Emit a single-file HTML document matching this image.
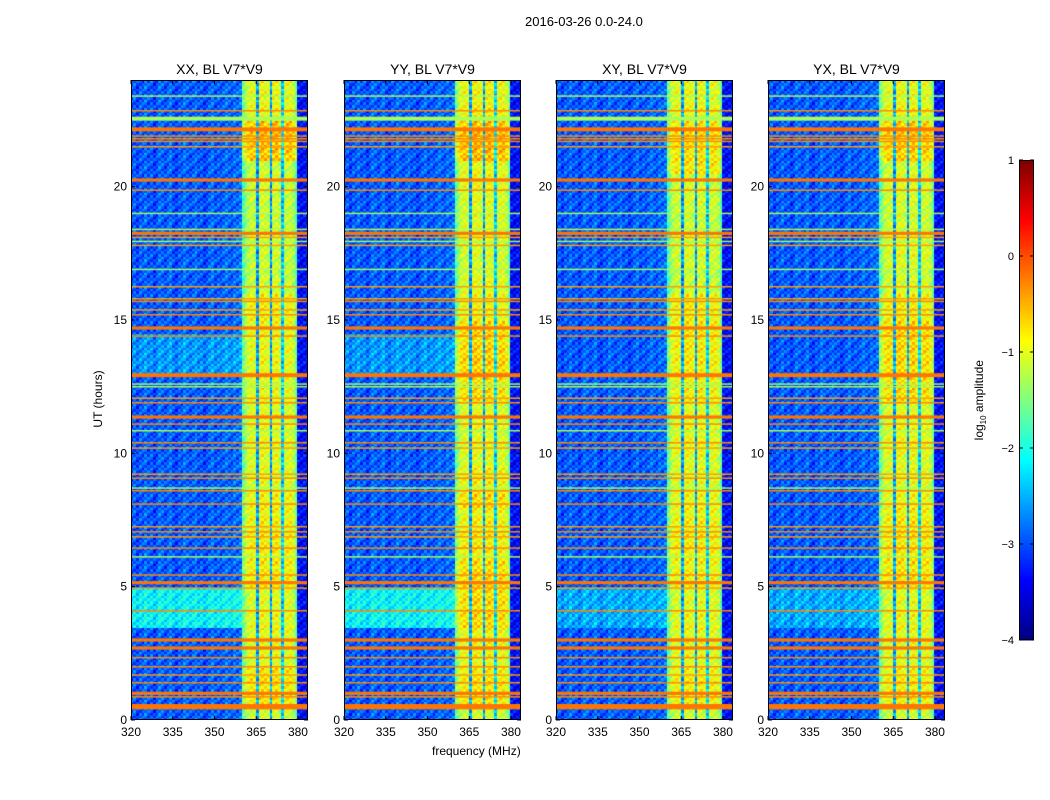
<!DOCTYPE html>
<html><head><meta charset="utf-8">
<style>
body{margin:0;background:#fff;font-family:"Liberation Sans",sans-serif;}
#wrap{position:relative;width:1050px;height:800px;overflow:hidden;background:#fff;}
.t{position:absolute;color:#000;white-space:nowrap;}
canvas{position:absolute;}
</style></head><body>
<div id="wrap">
<div class="t" style="left:525px;top:14px;font-size:13px;">2016-03-26 0.0-24.0</div>
<div class="t" style="left:432px;top:744px;font-size:12px;">frequency (MHz)</div>
<div class="t" style="left:68px;top:392px;font-size:12px;transform:rotate(-90deg);transform-origin:center;width:60px;text-align:center;">UT (hours)</div>
<div class="t" style="left:930px;top:392px;font-size:12px;transform:rotate(-90deg);width:100px;text-align:center;">log<sub style="font-size:8px">10</sub> amplitude</div>
<svg id="svg" width="1050" height="800" style="position:absolute;left:0;top:0"></svg>
</div>
<script>
const freqLevel=[-3.0,-2.9,-3.1,-2.9,-3.0,-2.8,-3.0,-2.9,-3.1,-3.0,-2.8,-2.9,-3.0,-2.9,-2.8,-3.0,-3.1,-2.9,-3.0,-2.8,-2.9,-3.0,-2.9,-2.8,-3.0,-2.9,-3.1,-3.0,-2.9,-2.8,-3.0,-2.9,-3.0,-2.9,-2.8,-2.9,-3.0,-2.8,-2.9,-2.8,
-1.8,-1.5,-1.3,-1.2,-1.3,-2.7,-1.2,-1.1,-1.2,-1.3,-2.7,-1.2,-1.1,-1.3,-2.5,-1.3,-1.2,-1.2,-1.4,-1.8,-3.3,-3.4,-3.3,-3.4];
const freqStart=320;
const rfiHours=[0.5,0.87,1.0,1.4,1.69,2.0,2.34,2.7,3.0,4.1,4.95,5.15,5.44,6.12,6.45,6.87,7.06,7.25,8.1,8.6,8.7,9.07,9.22,10.2,10.4,10.85,11.1,11.36,11.9,12.07,12.5,12.6,12.93,14.4,14.7,15.2,15.38,15.7,15.8,16.25,16.9,17.8,17.95,18.1,18.25,18.4,19.0,19.87,20.25,21.5,21.7,21.8,21.9,22.15,22.55,22.85,23.4];
const rfiLevels=[-0.2,-0.3,-0.2,-0.3,-0.4,-0.3,-0.3,-0.2,-0.2,-0.3,-0.4,-0.2,-0.3,-1.3,-0.3,-0.4,-0.3,-0.4,-0.3,-0.3,-1.3,-0.3,-0.4,-0.4,-0.3,-1.3,-0.3,-0.2,-0.3,-0.4,-1.3,-1.3,-0.2,-0.3,-0.2,-0.3,-0.4,-0.3,-0.4,-0.4,-1.3,-0.4,-1.3,-0.4,-0.2,-1.3,-1.3,-0.3,-0.2,-0.4,-0.3,-0.3,-0.3,-0.2,-1.3,-0.3,-1.3];
const rfiSpan=[0.2,0.05,0.12,0.05,0.05,0.05,0.05,0.12,0.12,0.05,0.05,0.12,0.05,0.05,0.05,0.05,0.05,0.05,0.05,0.05,0.05,0.05,0.05,0.05,0.05,0.05,0.05,0.12,0.05,0.05,0.05,0.05,0.15,0.05,0.12,0.05,0.05,0.05,0.05,0.05,0.05,0.05,0.05,0.05,0.12,0.05,0.05,0.05,0.12,0.05,0.05,0.05,0.05,0.15,0.15,0.05,0.05];
const panelTitles=["XX, BL V7*V9","YY, BL V7*V9","XY, BL V7*V9","YX, BL V7*V9"];
const bandBoostXX=[0.2,0.7,0.7,0.7,0.3,0.3,0.4,0.4,0.3,0.3,0.6,0.6,0.6,0.6,0.5,0.5,0.5,0.3,0.3,0.3,0.3,0.3,0.3,0.3,0.4,0.4,0.4,0.4,0.4,0.4,0.5,0.5,0.1,0.1,0.1,0.1,0.1,0.1,0.1,0.1,0.1,0.1,1.0,1.0,1.0,0.4,0.4,0.4];
const bandBoostYY=[0.2,0.7,0.7,0.6,0.4,0.4,0.5,0.8,0.8,0.8,0.8,0.8,0.6,0.6,0.5,0.5,0.8,0.5,0.5,0.3,0.3,0.3,0.3,0.3,0.8,0.8,0.9,0.9,0.8,0.8,0.4,0.4,0.3,0.3,0.2,0.2,0.3,0.3,0.3,0.3,0.4,0.4,1.1,1.1,1.0,0.6,0.5,0.5];
const bandBoostXY=[0.2,0.6,0.6,0.5,0.3,0.3,0.4,0.4,0.3,0.3,0.5,0.5,0.6,0.6,0.5,0.5,0.4,0.3,0.3,0.3,0.4,0.4,0.3,0.3,0.6,0.6,0.6,0.6,0.6,0.6,0.5,0.5,0.1,0.1,0.2,0.2,0.1,0.1,0.2,0.2,0.1,0.7,0.7,0.7,0.7,0.4,0.4,0.4];
const bandBoostYX=[0.2,0.6,0.6,0.5,0.3,0.3,0.4,0.4,0.3,0.3,0.7,0.7,0.7,0.6,0.6,0.6,0.4,0.3,0.3,0.3,0.4,0.4,0.3,0.3,0.8,0.8,0.8,0.8,0.8,0.8,0.5,0.5,0.2,0.2,0.3,0.3,0.2,0.2,0.2,0.2,0.2,0.2,0.9,0.9,0.9,0.5,0.4,0.4];
const leftBoostA=[0,0,0,0,0,0,0,0.8,0.8,0.8,0,0,0,0,0,0,0,0,0,0,0,0,0,0,0,0,0.3,0.3,0.3,0,0,0,0,0,0,0,0,0,0,0,0,0,0,0,0,0,0,0];
const leftBoostB=[0,0,0,0,0,0,0,0.4,0.4,0.4,0,0,0,0,0,0,0,0,0,0,0,0,0,0,0,0,0,0,0,0,0,0,0,0,0,0,0,0,0,0,0,0,0,0,0,0,0,0,0];
const bandBoosts=[bandBoostXX,bandBoostYY,bandBoostXY,bandBoostYX];
const leftBoosts=[leftBoostA,leftBoostA,leftBoostB,leftBoostB];
const xTicks=[320,335,350,365,380];
const yTicks=[0,5,10,15,20];
const cbTicks=[1,0,-1,-2,-3,-4];
const cbLabels=["1","0","\u22121","\u22122","\u22123","\u22124"];

const panelLeft=[131,344,556,768], PW=177, PT=80, PH=640;
const fMin=320,fMax=383.6,tMin=0,tMax=24,vMin=-4,vMax=1;
function xs(p,f){return panelLeft[p]+(f-fMin)/(fMax-fMin)*PW;}
function ys(h){return PT+PH-(h-tMin)/(tMax-tMin)*PH;}
function cl(x){return Math.max(0,Math.min(1,x));}
function jet(v){const t=cl((v-vMin)/(vMax-vMin));
 return `rgb(${Math.round(255*cl(1.5-Math.abs(4*t-3)))},${Math.round(255*cl(1.5-Math.abs(4*t-2)))},${Math.round(255*cl(1.5-Math.abs(4*t-1)))})`;}
const wrap=document.getElementById('wrap');
const svg=document.getElementById('svg');
const NS='http://www.w3.org/2000/svg';
function mk(tag,attrs){const e=document.createElementNS(NS,tag);for(const k in attrs)e.setAttribute(k,attrs[k]);svg.appendChild(e);return e;}

for(let p=0;p<4;p++){
 const cv=document.createElement('canvas');
 cv.width=PW;cv.height=PH;cv.style.left=panelLeft[p]+'px';cv.style.top=PT+'px';
 
 
 wrap.insertBefore(cv,svg);
 const ctx=cv.getContext('2d');
 const dt=0.1;
 for(let r=0;r<240;r++){
  const h=r*dt, hb=Math.floor(h/0.5);
  for(let fi=0;fi<freqLevel.length;fi++){
   const f=freqStart+fi;
   const inBand=f>=360&&f<380;
   let v=freqLevel[fi];
   if(inBand) v+=0.6*bandBoosts[p][hb]*(v<-2?0.4:1);
   else if(f<360) v+=leftBoosts[p][hb];
   v+=((r*7+fi*13)%5-2)*0.15;
   ctx.fillStyle=jet(v);
   const x0=xs(p,f)-panelLeft[p], x1=xs(p,f+1)-panelLeft[p];
   const y0=ys(h+dt)-PT, y1=ys(h)-PT;
   ctx.fillRect(Math.floor(x0),Math.floor(y0),Math.ceil(x1-x0)+1,Math.ceil(y1-y0)+1);
  }
 }
 for(let k=0;k<rfiHours.length;k++){
  ctx.fillStyle=jet(rfiLevels[k]);
  const y0=ys(rfiHours[k]+rfiSpan[k]/2)-PT, y1=ys(rfiHours[k]-rfiSpan[k]/2)-PT;
  ctx.fillRect(0,y0,PW,Math.max(1.5,y1-y0));
 }
 const fr=mk('rect',{x:panelLeft[p]+0.5,y:PT+0.5,width:PW-1,height:PH-1,fill:'none',stroke:'#000','stroke-width':1});
 
 
 const tt=mk('text',{x:panelLeft[p]+PW/2,y:74,'text-anchor':'middle','font-size':14,'font-family':'Liberation Sans, sans-serif'});
 tt.textContent=panelTitles[p];
 
 
 xTicks.forEach(v=>{const x=xs(p,v);
  mk('line',{x1:x,x2:x,y1:PT+PH,y2:PT+PH-4,stroke:'#000'});
  mk('line',{x1:x,x2:x,y1:PT,y2:PT+4,stroke:'#000'});
  const l=mk('text',{x:x,y:736,'text-anchor':'middle','font-size':12,'font-family':'Liberation Sans, sans-serif'});
  l.textContent=v;
  
  
 });
 yTicks.forEach(v=>{const y=ys(v);
  mk('line',{x1:panelLeft[p],x2:panelLeft[p]+4,y1:y,y2:y,stroke:'#000'});
  mk('line',{x1:panelLeft[p]+PW,x2:panelLeft[p]+PW-4,y1:y,y2:y,stroke:'#000'});
  const l=mk('text',{x:panelLeft[p]-4,y:y+4,'text-anchor':'end','font-size':12,'font-family':'Liberation Sans, sans-serif'});
  l.textContent=v;
  
  
 });
}
const CBX=1019,CBW=15,CBT=160,CBH=480;
function cys(v){return CBT+CBH-(v-vMin)/(vMax-vMin)*CBH;}
for(let i=0;i<CBH;i++){
 const v=vMin+(i+0.5)/CBH*(vMax-vMin);
 mk('rect',{x:CBX,y:cys(v)-0.5,width:CBW,height:1.5,fill:jet(v)});
}
const cbf=mk('rect',{x:CBX+0.5,y:CBT+0.5,width:CBW-1,height:CBH-1,fill:'none',stroke:'#000'});


cbTicks.forEach((v,i)=>{const y=cys(v);
 mk('line',{x1:CBX,x2:CBX+4,y1:y,y2:y,stroke:'#000'});
 mk('line',{x1:CBX+CBW,x2:CBX+CBW-4,y1:y,y2:y,stroke:'#000'});
 const l=mk('text',{x:CBX-5,y:y+4,'text-anchor':'end','font-size':11,'font-family':'Liberation Sans, sans-serif'});
 l.textContent=cbLabels[i];
 
 
});
</script>
</body></html>
